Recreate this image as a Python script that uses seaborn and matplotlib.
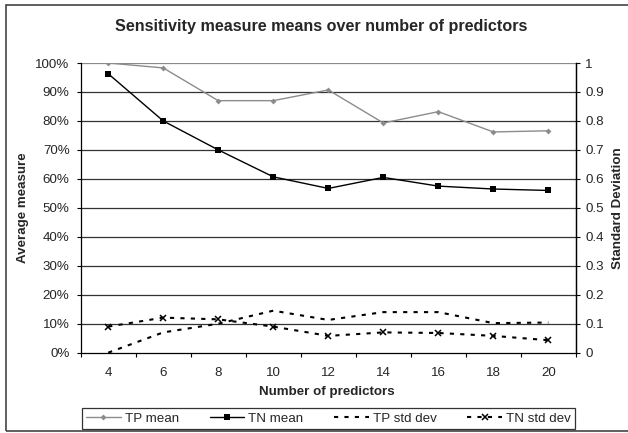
import matplotlib
matplotlib.use("Agg")
import matplotlib.pyplot as plt
import seaborn as sns
import numpy as np
import pandas as pd
from matplotlib.patches import Rectangle
from matplotlib.ticker import FixedLocator, FuncFormatter

# ---- data ----
n_predictors = [4, 6, 8, 10, 12, 14, 16, 18, 20]
tp_mean = [1.00, 0.983, 0.870, 0.870, 0.907, 0.793, 0.832, 0.762, 0.766]
tn_mean = [0.963, 0.800, 0.700, 0.607, 0.567, 0.605, 0.575, 0.565, 0.560]
tp_std = [0.000, 0.070, 0.100, 0.145, 0.113, 0.140, 0.140, 0.102, 0.104]
tn_std = [0.090, 0.121, 0.115, 0.090, 0.058, 0.070, 0.068, 0.058, 0.043]

title = "Sensitivity measure means over number of predictors"
xlabel = "Number of predictors"
ylabel_left = "Average measure"
ylabel_right = "Standard Deviation"
labels = ["TP mean", "TN mean", "TP std dev", "TN std dev"]

sns.set_style("white")
plt.rcParams["font.family"] = ["Liberation Sans", "DejaVu Sans"]
FS = 9.6

fig = plt.figure(figsize=(6.28, 4.33), dpi=100)
fig.patch.set_facecolor("white")
ax = fig.add_axes([0.1285, 0.1855, 0.7885, 0.669])
ax2 = ax.twinx()

df = pd.DataFrame({"n": n_predictors, "tp_mean": tp_mean, "tn_mean": tn_mean,
                   "tp_std": tp_std, "tn_std": tn_std})

sns.lineplot(data=df, x="n", y="tp_mean", ax=ax, color="#8c8c8c", lw=1.0,
             marker="D", markersize=3.0, markeredgewidth=0, label=labels[0],
             legend=False, zorder=4)
sns.lineplot(data=df, x="n", y="tn_mean", ax=ax, color="black", lw=1.0,
             marker="s", markersize=4.2, markeredgewidth=0, label=labels[1],
             legend=False, zorder=5)
sns.lineplot(data=df, x="n", y="tp_std", ax=ax2, color="black", lw=1.5,
             linestyle=(0, (2, 3)), label=labels[2], legend=False, zorder=4)
sns.lineplot(data=df, x="n", y="tn_std", ax=ax2, color="black", lw=1.5,
             linestyle=(0, (2, 3)), marker="x", markersize=4.5,
             markeredgewidth=1.1, markeredgecolor="black",
             label=labels[3], legend=False, zorder=4)

for a in (ax, ax2):
    a.set_xlim(3, 21)
    a.set_ylim(0, 1)
    a.set_xlabel("")
    a.set_ylabel("")

# gridlines
for v in np.arange(0.1, 1.01, 0.1):
    ax.axhline(v, color="#8a8a8a" if v > 0.95 else "#333333", lw=0.9, zorder=1)

# left axis
ax.set_yticks(np.arange(0, 1.01, 0.1))
ax.yaxis.set_major_formatter(FuncFormatter(lambda v, p: f"{int(round(v*100))}%"))
ax.tick_params(axis="y", which="major", direction="out", length=3, width=0.8,
               color="black", labelsize=FS, pad=5, left=True)
# x axis
ax.set_xticks(n_predictors)
ax.set_xticklabels([str(v) for v in n_predictors])
ax.xaxis.set_minor_locator(FixedLocator(np.arange(3, 22, 2)))
ax.tick_params(axis="x", which="major", length=0, labelsize=FS, pad=10.3)
ax.tick_params(axis="x", which="minor", direction="out", length=3, width=0.8,
               color="black", bottom=True)
# right axis
ax2.set_yticks(np.arange(0, 1.01, 0.1))
ax2.yaxis.set_major_formatter(FuncFormatter(
    lambda v, p: "0" if v < 0.01 else ("1" if v > 0.99 else f"{v:.1f}")))
ax2.tick_params(axis="y", which="major", direction="out", length=3, width=0.8,
                color="black", labelsize=FS, pad=3.6, right=True)

for a in (ax, ax2):
    a.spines["top"].set_visible(False)
    for s in ["left", "right", "bottom"]:
        a.spines[s].set_color("black")
        a.spines[s].set_linewidth(0.9)
ax2.spines["left"].set_visible(False)
ax2.spines["bottom"].set_visible(False)

# texts
fig.text(0.511, 0.938, title, ha="center", va="center", fontsize=11.6,
         fontweight="bold")
fig.text(0.521, 0.095, xlabel, ha="center", va="center", fontsize=FS,
         fontweight="bold")
fig.text(0.036, 0.52, ylabel_left, ha="center", va="center", rotation=90,
         fontsize=FS, fontweight="bold")
fig.text(0.984, 0.52, ylabel_right, ha="center", va="center", rotation=90,
         fontsize=FS, fontweight="bold")

# legend
h1, l1 = ax.get_legend_handles_labels()
h2, l2 = ax2.get_legend_handles_labels()
leg = fig.legend(h1 + h2, l1 + l2, loc="center", bbox_to_anchor=(0.523, 0.0335),
                 ncol=4, fontsize=FS, frameon=True, fancybox=False,
                 edgecolor="black", handlelength=2.6, handletextpad=0.3,
                 columnspacing=2.3, borderpad=0.3)
leg.get_frame().set_linewidth(0.9)

# outer chart border
fig.patches.append(Rectangle((6 / 628, 2 / 433), 1.0, (431 - 5) / 433,
                             transform=fig.transFigure, fill=False,
                             edgecolor="#444444", lw=1.2))

fig.savefig("out.png", dpi=100)
